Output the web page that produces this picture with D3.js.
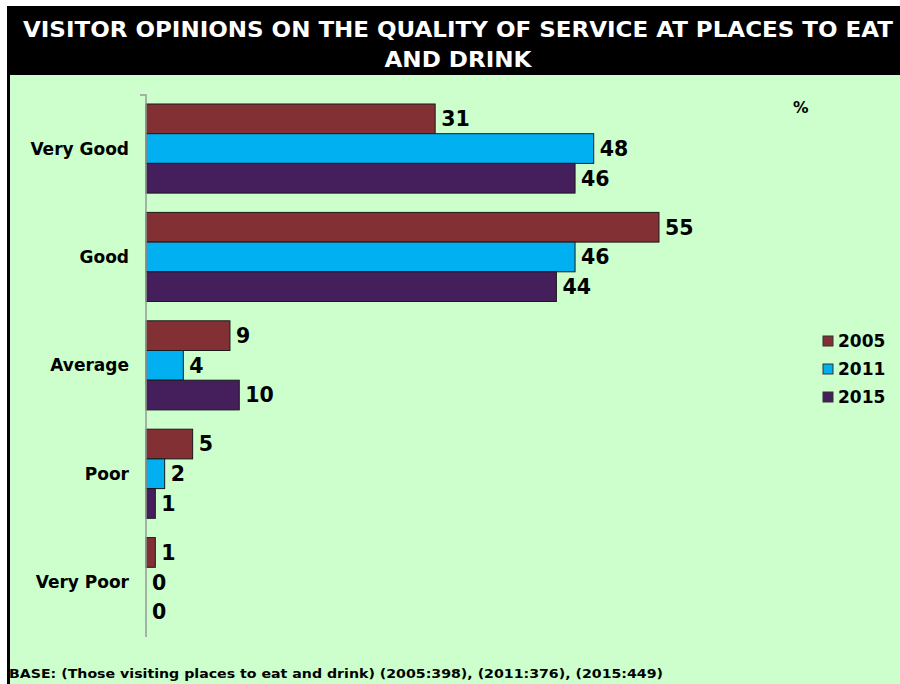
<!DOCTYPE html>
<html>
<head>
<meta charset="utf-8">
<script src="https://cdn.jsdelivr.net/npm/d3@7"></script>
<style>
  html, body { margin: 0; padding: 0; background: #ffffff; }
  svg { display: block; }
  text { font-family: "DejaVu Sans", Verdana, sans-serif; font-weight: bold; }
</style>
</head>
<body>
<svg id="chart" width="900" height="684"></svg>
<script>
// Ratings shown down the chart
const categories = ["Very Good", "Good", "Average", "Poor", "Very Poor"];
// Survey years (one bar each per rating)
const years = ["2005", "2011", "2015"];
// Percent of visitors per rating
const values2005 = [31, 55, 9, 5, 1];
const values2011 = [48, 46, 4, 2, 0];
const values2015 = [46, 44, 10, 1, 0];
const yearColors = ["#833034", "#00B0F0", "#441F5C"];

const titleLines = [
  "VISITOR OPINIONS ON THE QUALITY OF SERVICE AT PLACES TO EAT",
  "AND DRINK"
];
const footnote = "BASE: (Those visiting places to eat and drink) (2005:398), (2011:376), (2015:449)";

const seriesValues = [values2005, values2011, values2015];
const rows = categories.map((c, i) => ({
  category: c,
  bars: years.map((y, j) => ({ year: y, value: seriesValues[j][i], color: yearColors[j] }))
}));

const svg = d3.select("#chart");

// Frame: black title band and green plot panel
svg.append("rect").attr("x", 7).attr("y", 6).attr("width", 900).attr("height", 690).attr("fill", "#000");
svg.append("rect").attr("x", 10).attr("y", 75).attr("width", 900).attr("height", 620).attr("fill", "#CCFFCC");

const title = svg.append("g");
title.append("text").attr("x", 458).attr("y", 37).attr("text-anchor", "middle")
  .attr("font-size", 22).attr("textLength", 870).attr("lengthAdjust", "spacingAndGlyphs")
  .attr("fill", "#fff").text(titleLines[0]);
title.append("text").attr("x", 458).attr("y", 67).attr("text-anchor", "middle")
  .attr("font-size", 22).attr("textLength", 147).attr("lengthAdjust", "spacingAndGlyphs")
  .attr("fill", "#fff").text(titleLines[1]);

// Scales
const x = d3.scaleLinear().domain([0, 55]).range([146, 659]);
const y0 = d3.scaleBand().domain(categories).range([95, 637]);
const y1 = d3.scaleBand().domain(years)
  .range([y0.bandwidth() * 0.083, y0.bandwidth() * 0.905]);

// Bars
const groups = svg.append("g").selectAll("g").data(rows).join("g")
  .attr("transform", d => `translate(0,${y0(d.category)})`);

groups.selectAll("rect").data(d => d.bars.filter(b => b.value > 0)).join("rect")
  .attr("x", x(0))
  .attr("y", b => y1(b.year))
  .attr("width", b => x(b.value) - x(0))
  .attr("height", y1.bandwidth())
  .attr("fill", b => b.color)
  .attr("stroke", "#1a1a1a")
  .attr("stroke-width", 1);

groups.selectAll("text.val").data(d => d.bars).join("text")
  .attr("class", "val")
  .attr("x", b => x(b.value) + 6)
  .attr("y", b => y1(b.year) + y1.bandwidth() / 2)
  .attr("dy", "0.36em")
  .attr("font-size", 20.5)
  .attr("fill", "#000")
  .text(b => b.value);

// Category axis (left)
const axis = d3.axisLeft(y0).tickSize(0).tickPadding(17);
const axisG = svg.append("g").attr("transform", `translate(${x(0)},0)`).call(axis);
axisG.select(".domain").attr("stroke", "#999").attr("stroke-width", 1.5)
  .attr("d", `M-6,${y0.range()[0]}H0V${y0.range()[1]}`);
axisG.selectAll(".tick text")
  .attr("font-size", 17).attr("fill", "#000")
  .attr("font-family", "DejaVu Sans, Verdana, sans-serif").attr("font-weight", "bold");

// Unit marker
svg.append("text").attr("x", 793).attr("y", 113).attr("font-size", 15.5).attr("fill", "#000").text("%");

// Legend
const legend = svg.append("g").selectAll("g").data(years).join("g")
  .attr("transform", (d, i) => `translate(823,${336 + i * 28})`);
legend.append("rect").attr("width", 10).attr("height", 10)
  .attr("fill", (d, i) => yearColors[i]).attr("stroke", "#333").attr("stroke-width", 1);
legend.append("text").attr("x", 15).attr("y", 5).attr("dy", "0.36em")
  .attr("font-size", 17).attr("fill", "#000").text(d => d);

// Base note
svg.append("text").attr("x", 9).attr("y", 678).attr("font-size", 13)
  .attr("textLength", 654).attr("lengthAdjust", "spacingAndGlyphs")
  .attr("fill", "#000").text(footnote);
</script>
</body>
</html>
